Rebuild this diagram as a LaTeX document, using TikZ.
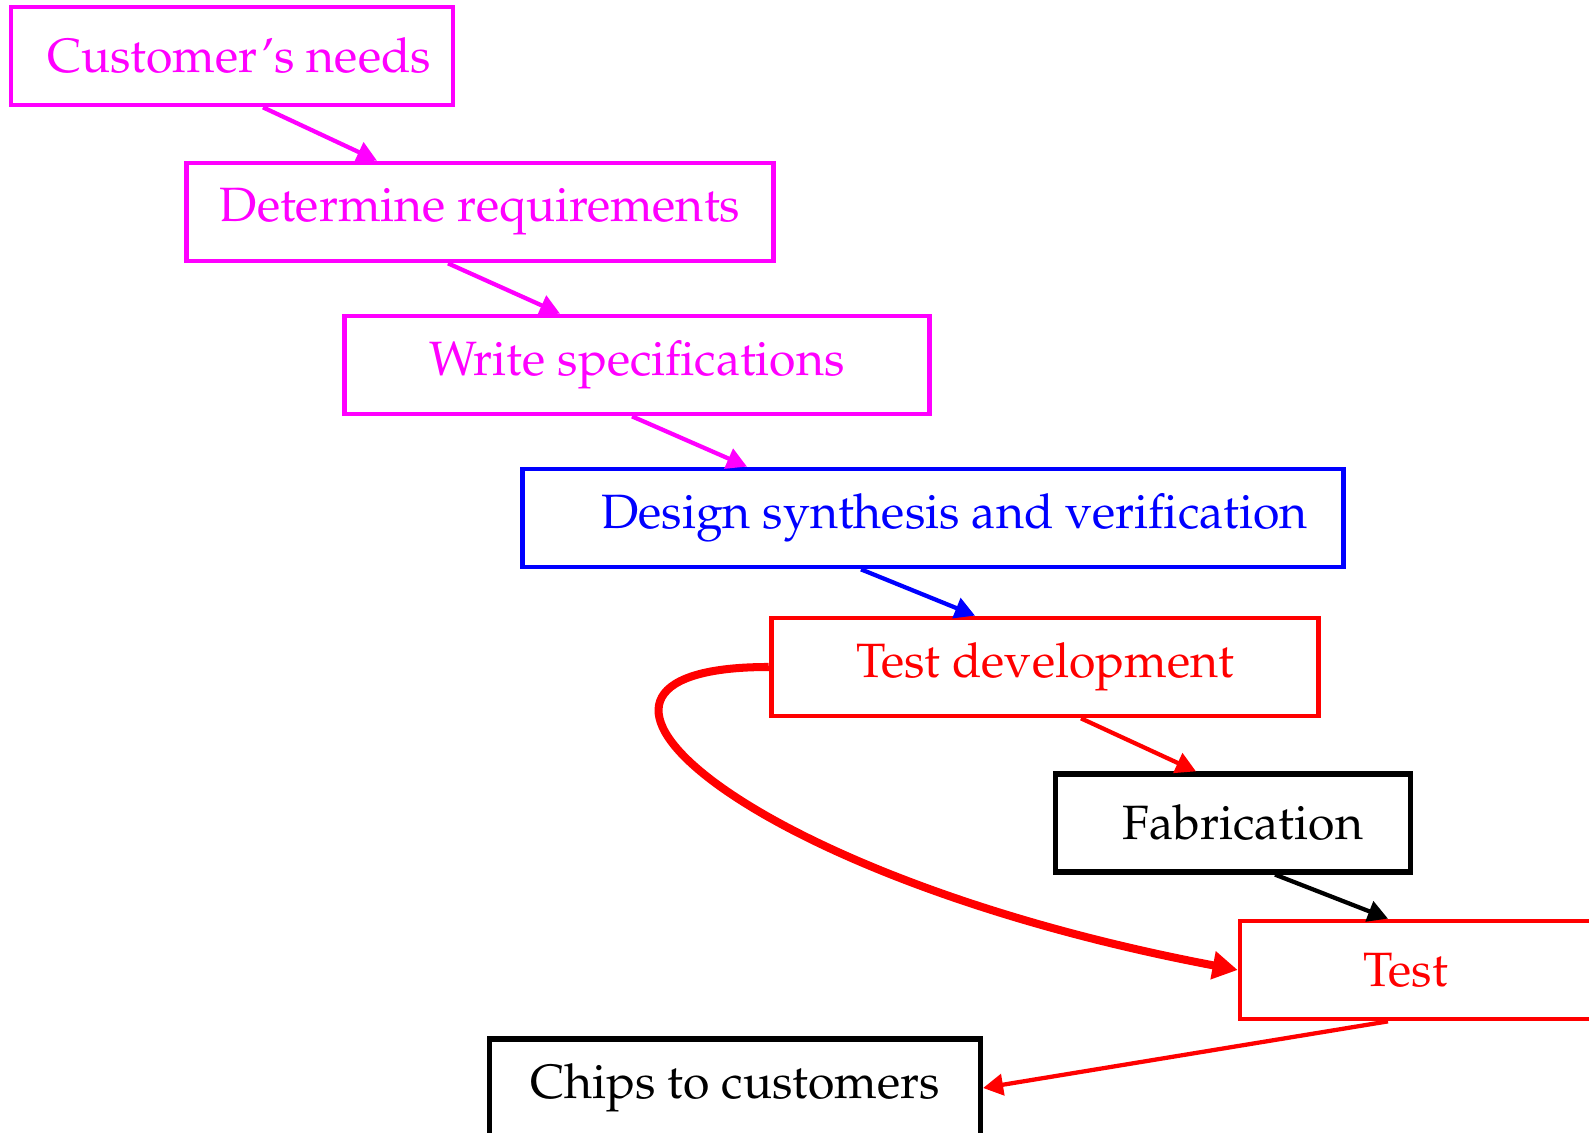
\documentclass[tikz,border=0pt]{standalone}
\usepackage[T1]{fontenc}
\usepackage{mathpazo}
\usepackage{tikz}
\usetikzlibrary{arrows.meta, calc}

\definecolor{specpink}{RGB}{255,0,255}

\begin{document}
\begin{tikzpicture}[x=0.007cm, y=-0.007cm,
        font=\fontsize{9.6}{11.5}\selectfont,
        stage/.style={draw, rectangle, line width=0.95pt, minimum height=0.686cm, inner sep=0pt},
        spec/.style={stage, draw=specpink, text=specpink},
        synth/.style={stage, draw=blue, text=blue},
        tst/.style={stage, draw=red, text=red},
        fab/.style={stage, draw=black, line width=1.05pt},
        flow/.style={-{Triangle[length=4pt, width=4.2pt]}, line width=0.85pt}
    ]
        \useasboundingbox (0,0) rectangle (1589,1133);

        % === Specification stages ===
        \node[spec, minimum width=3.094cm] (cust) at (232, 56)  {\hspace*{0.1cm}Customer's needs};
        \node[spec, minimum width=4.109cm] (req)  at (480, 212) {Determine requirements};
        \node[spec, minimum width=4.095cm] (spc)  at (637, 365) {Write specifications};

        % === Design ===
        \node[synth, minimum width=5.754cm] (dsn) at (933, 518) {\hspace*{0.3cm}Design synthesis and verification};

        % === Test and manufacture ===
        \node[tst, minimum width=3.836cm] (tdev) at (1045, 667) {Test development};
        \node[fab, minimum width=2.485cm] (fabr) at (1233, 823) {\hspace*{0.14cm}Fabrication};
        \node[tst, minimum width=2.520cm] (test) at (1420, 970) {Test\hspace*{0.2cm}};
        \node[fab, minimum width=3.437cm] (chip) at (735, 1088) {Chips to customers};

        % Arrows down the chain
        \draw[flow, specpink] ($(cust.south)+(31,0)$) -- ($(req.north)+(-103,0)$);
        \draw[flow, specpink] ($(req.south)+(-32,0)$) -- ($(spc.north)+(-77,0)$);
        \draw[flow, specpink] ($(spc.south)+(-5,0)$)  -- ($(dsn.north)+(-186,0)$);
        \draw[flow, blue]     ($(dsn.south)+(-72,0)$) -- ($(tdev.north)+(-70,0)$);
        \draw[flow, red]      ($(tdev.south)+(36,0)$) -- ($(fabr.north)+(-37,0)$);
        \draw[flow, black]    ($(fabr.south)+(42,0)$) -- ($(test.north)+(-32,0)$);
        \draw[flow, red]      ($(test.south)+(-32,0)$) -- (chip.east);

        % Test program goes straight to the tester
        \draw[-{Triangle[length=5pt, width=5.4pt]}, red, line width=1.6pt]
            (tdev.west) .. controls +(-265,0) and +(-496,-94) .. (test.west);

    \end{tikzpicture}
\end{document}
